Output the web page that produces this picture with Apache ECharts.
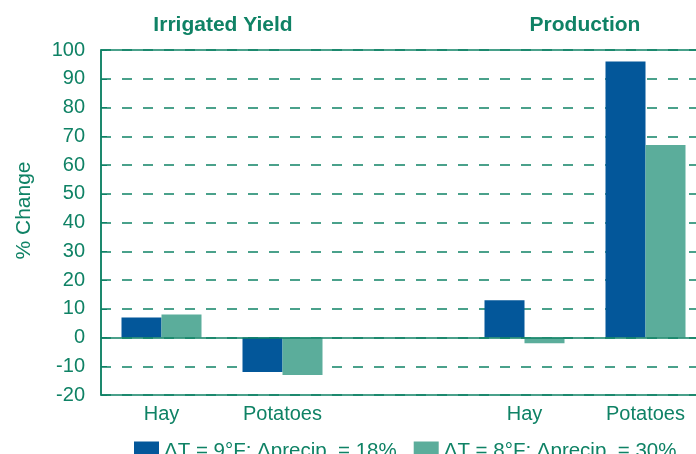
<!DOCTYPE html>
<html>
<head>
<meta charset="utf-8">
<style>
html, body { margin: 0; padding: 0; background: #fff; }
#chart { width: 696px; height: 454px; }
</style>
<script src="https://cdn.jsdelivr.net/npm/echarts@6/dist/echarts.min.js"></script>
</head>
<body>
<div id="chart"></div>
<script>
// data
var categories = ['Hay', 'Potatoes', '', 'Hay', 'Potatoes'];
var warmDry = [7, -12, null, 13, 96];    // dT = 9F, dprecip = 18%
var warmWet = [8, -13, null, -2, 67];    // dT = 8F, dprecip = 30%
var seriesNames = ['\u0394T = 9\u00b0F; \u0394precip. = 18%', '\u0394T = 8\u00b0F; \u0394precip. = 30%'];
var panelTitles = ['Irrigated Yield', 'Production'];

var green = '#0f8265';
var font = '"Liberation Sans", Arial, sans-serif';

var myChart = echarts.init(document.getElementById('chart'), null, { renderer: 'canvas' });

var option = {
	animation: false,
	title: [{
		text: panelTitles[0],
		left: 218,
		top: 10,
		textAlign: 'center',
		textStyle: { color: green, fontFamily: font, fontSize: 21, fontWeight: 'bold' }
	}, {
		text: panelTitles[1],
		left: 580,
		top: 10,
		textAlign: 'center',
		textStyle: { color: green, fontFamily: font, fontSize: 21, fontWeight: 'bold' }
	}],
	legend: {
		left: 129,
		top: 436,
		icon: 'rect',
		itemWidth: 25,
		itemHeight: 20,
		itemGap: 17,
		textStyle: { color: green, fontFamily: font, fontSize: 20.5 },
		data: seriesNames
	},
	// plot runs past the right edge of the picture, as in the original
	grid: {
		left: 101,
		width: 605,
		top: 50,
		bottom: 59,
		outerBoundsMode: 'none',
		show: true,
		borderColor: green,
		borderWidth: 1.5
	},
	xAxis: {
		type: 'category',
		data: categories,
		axisLine: { show: false, onZero: false },
		axisTick: { show: false },
		axisLabel: { color: green, fontFamily: font, fontSize: 20, margin: 9 },
		splitLine: { show: false }
	},
	yAxis: {
		type: 'value',
		min: -20,
		max: 100,
		interval: 10,
		name: '% Change',
		nameLocation: 'middle',
		nameGap: 66,
		nameTextStyle: { color: green, fontFamily: font, fontSize: 21, padding: [0, 0, 0, 24] },
		axisLine: { show: true, lineStyle: { color: green, width: 1.5 } },
		axisTick: { show: true, length: 6, inside: true, lineStyle: { color: green } },
		axisLabel: { color: green, fontFamily: font, fontSize: 20, margin: 16 },
		splitLine: { show: true, lineStyle: { color: green, width: 1.5, type: [10, 11] } }
	},
	series: [{
		name: seriesNames[0],
		type: 'bar',
		data: warmDry,
		barWidth: 40,
		barGap: '0%',
		itemStyle: { color: '#03579a' },
		markLine: {
			silent: true,
			symbol: 'none',
			label: { show: false },
			lineStyle: { color: green, width: 1.5, type: 'solid' },
			data: [{ yAxis: 0 }]
		}
	}, {
		name: seriesNames[1],
		type: 'bar',
		data: warmWet,
		barWidth: 40,
		barGap: '0%',
		itemStyle: { color: '#5bad9b' }
	}]
};

myChart.setOption(option);
</script>
</body>
</html>
